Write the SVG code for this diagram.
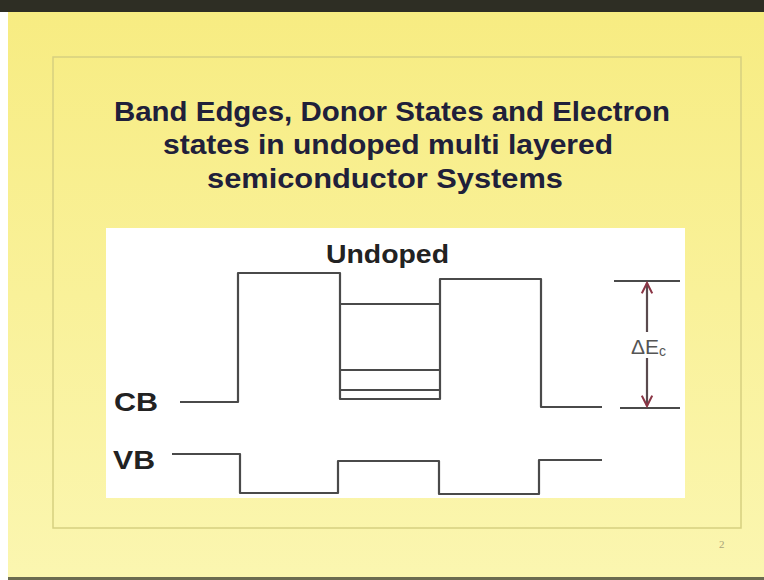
<svg xmlns="http://www.w3.org/2000/svg" width="764" height="580" viewBox="0 0 764 580">
<defs>
<linearGradient id="bg" x1="0" y1="0" x2="0" y2="1">
<stop offset="0" stop-color="#f7ec82"/>
<stop offset="1" stop-color="#fbf6b0"/>
</linearGradient>
<marker id="ah" viewBox="0 0 10 10" refX="9" refY="5" markerWidth="15" markerHeight="13" orient="auto" markerUnits="userSpaceOnUse">
<path d="M1,1 L9,5 L1,9" fill="none" stroke="#8a3444" stroke-width="1.6"/>
</marker>
<style>
.ln{fill:none;stroke:#4a4a4a;stroke-width:2.2;stroke-linejoin:round}
.t{font-family:"Liberation Sans",Arial,sans-serif;font-weight:bold;fill:#20203a}
.lbl{font-family:"Liberation Sans",Arial,sans-serif;font-weight:bold;fill:#222}
.arr{stroke:#5a4a4e;stroke-width:2.2;fill:none}
</style>
</defs>
<rect x="0" y="0" width="764" height="580" fill="#ffffff"/>
<rect x="8" y="12" width="756" height="566" fill="url(#bg)"/>
<rect x="0" y="0" width="764" height="12" fill="#2e2e24"/>
<rect x="8" y="577" width="756" height="3" fill="#6b6b50"/>
<rect x="53" y="57" width="688" height="471" fill="none" stroke="#d6cf80" stroke-width="1.5"/>
<g id="title">
<text class="t" x="392" y="121" font-size="27" text-anchor="middle" textLength="556" lengthAdjust="spacingAndGlyphs">Band Edges, Donor States and Electron</text>
<text class="t" x="388" y="154" font-size="27" text-anchor="middle" textLength="450" lengthAdjust="spacingAndGlyphs">states in undoped multi layered</text>
<text class="t" x="385" y="188" font-size="27" text-anchor="middle" textLength="356" lengthAdjust="spacingAndGlyphs">semiconductor Systems</text>
</g>
<rect x="106" y="228" width="579" height="270" fill="#ffffff"/>
<g id="labels">
<text class="lbl" x="326" y="263" font-size="25" textLength="123" lengthAdjust="spacingAndGlyphs">Undoped</text>
<text class="lbl" x="114" y="411" font-size="25" textLength="44" lengthAdjust="spacingAndGlyphs">CB</text>
<text class="lbl" x="113" y="469" font-size="25" textLength="42" lengthAdjust="spacingAndGlyphs">VB</text>
<text x="631" y="354" font-family="Liberation Sans,Arial,sans-serif" font-size="21" fill="#555">ΔE<tspan font-size="14" dy="2">c</tspan></text>
</g>
<g id="cb">
<polyline class="ln" points="180,402 238,402 238,273 340,273 340,399 440,399 440,279 541,279 541,407 602,407"/>
</g>
<g id="levels">
<line class="ln" x1="340" y1="304" x2="440" y2="304"/>
<line class="ln" x1="340" y1="370" x2="440" y2="370"/>
<line class="ln" x1="340" y1="390" x2="440" y2="390"/>
</g>
<g id="vb">
<polyline class="ln" points="172,454 240,454 240,493 338,493 338,461 439,461 439,494 539,494 539,460 602,460"/>
</g>
<g id="delta">
<line class="ln" x1="614" y1="281" x2="680" y2="281"/>
<line class="ln" x1="620" y1="408" x2="680" y2="408"/>
<line class="arr" x1="647" y1="332" x2="647" y2="283" marker-end="url(#ah)"/>
<line class="arr" x1="647" y1="358" x2="647" y2="406" marker-end="url(#ah)"/>
</g>
<text x="719" y="548" font-family="Liberation Serif,serif" font-size="11" fill="#a9a47a">2</text>
</svg>
